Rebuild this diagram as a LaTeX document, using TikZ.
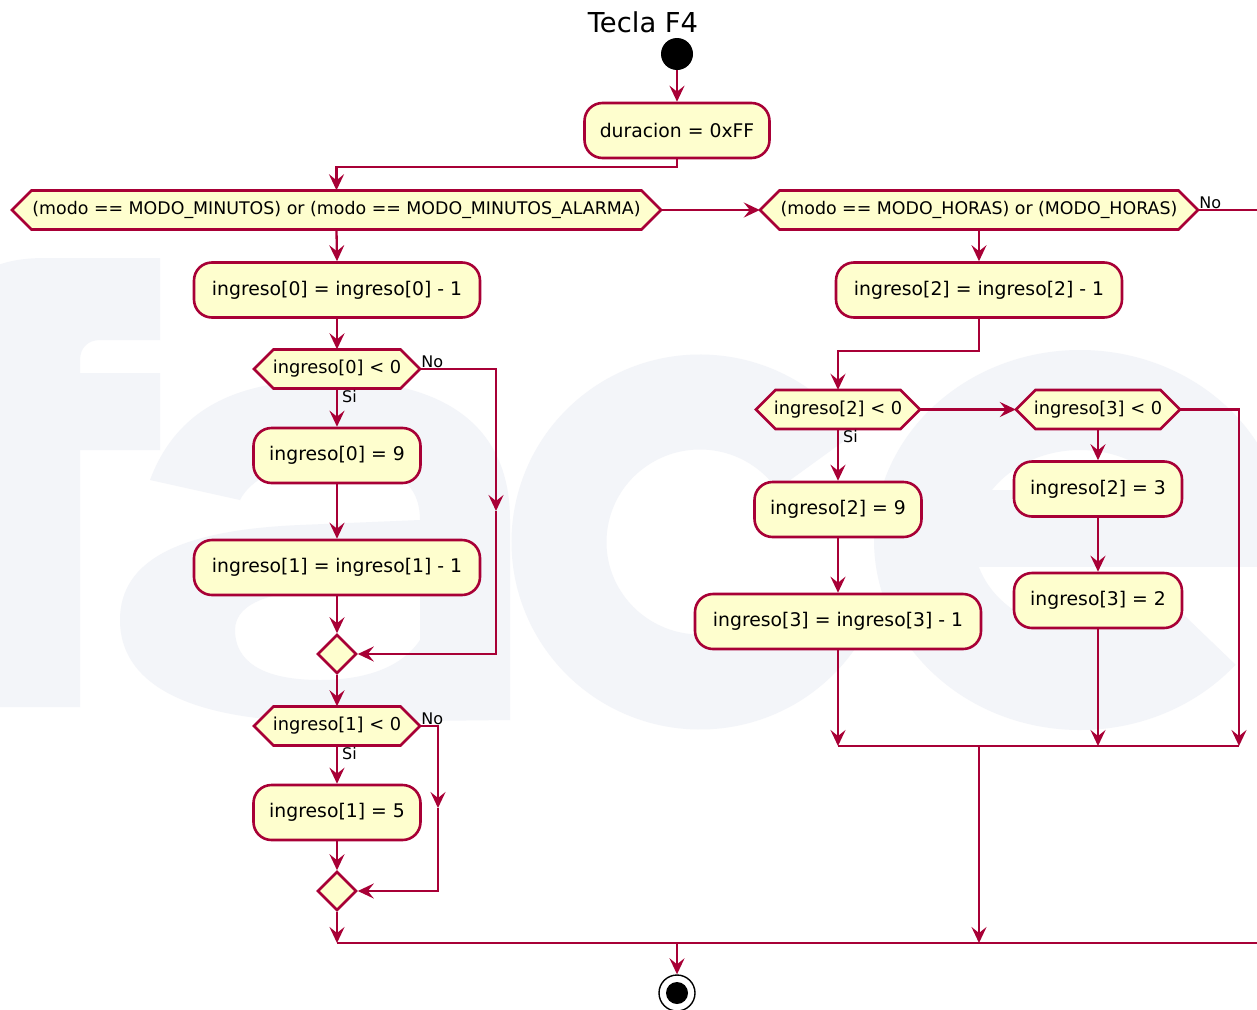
\documentclass[tikz,border=0pt]{standalone}
\usepackage{fontspec}
\setmainfont{DejaVu Sans}
\usetikzlibrary{arrows.meta,shapes.geometric,calc}

\definecolor{umlred}{HTML}{A80036}
\definecolor{umlfill}{HTML}{FEFECE}
\definecolor{wmark}{RGB}{243,245,249}

\tikzset{
  flow/.style={draw=umlred, line width=2.3pt, -{Stealth[length=16pt,width=15pt,inset=6pt]}},
  wire/.style={draw=umlred, line width=2.3pt},
  actbox/.style={draw=umlred, fill=umlfill, line width=2.6pt, rounded corners=18pt,
    minimum height=55pt, inner sep=0pt, font=\fontsize{18.8}{22}\selectfont},
  hexline/.style={draw=umlred, fill=umlfill, line width=2.6pt, line join=miter},
  hextext/.style={inner sep=0pt, minimum height=39pt},
  merge/.style={diamond, draw=umlred, fill=umlfill, line width=2.6pt,
    minimum width=39pt, minimum height=39pt, inner sep=0pt},
  guard/.style={font=\fontsize{16}{18}\selectfont, inner sep=1pt},
}

% hexagonal decision: name, centre x, centre y, total width, font size, text
\newcommand\flowhex[6]{%
  \path[hexline] ({#2-#4/2},#3) -- ({#2-#4/2+19.5},{#3-19.5})
    -- ({#2+#4/2-19.5},{#3-19.5}) -- ({#2+#4/2},#3)
    -- ({#2+#4/2-19.5},{#3+19.5}) -- ({#2-#4/2+19.5},{#3+19.5}) -- cycle;
  \node[hextext, minimum width=#4pt, font=\fontsize{#5}{#5}\selectfont] (#1) at (#2,#3) {#6};
}

\begin{document}
\begin{tikzpicture}[x=1pt,y=-1pt]
\useasboundingbox (0,0) rectangle (1257,1009);
\fill[white] (0,0) rectangle (1257,1009);

% faint lettering behind the chart
\fill[wmark] (-40,707) -- (-40,320) .. controls (-40,275) and (-5,258) .. (45,258)
  -- (160,258) -- (160,340) -- (100,340) .. controls (88,340) and (80,348) .. (80,360)
  -- (80,373) -- (160,373) -- (160,450) -- (80,450) -- (80,707) -- cycle;
\fill[wmark, even odd rule] (150,480) .. controls (180,400) and (250,380) .. (330,380)
  .. controls (450,380) and (510,430) .. (510,520) -- (510,720) -- (330,722)
  .. controls (180,722) and (120,680) .. (120,620) .. controls (120,560) and (180,530) .. (300,525)
  -- (420,520) .. controls (420,480) and (390,462) .. (330,462)
  .. controls (280,462) and (250,480) .. (240,500) -- cycle
  (235,630) .. controls (235,600) and (280,590) .. (330,590) -- (420,590) -- (420,640)
  .. controls (400,670) and (360,680) .. (320,680) .. controls (260,680) and (235,660) .. (235,630) -- cycle;
\draw[wmark, line width=95pt] ($(700,542)+(-35:141 and 140)$)
  arc[start angle=-35, end angle=-325, x radius=141, y radius=140];
\draw[wmark, line width=100pt] ($(1080,540)+(0:156 and 140)$)
  arc[start angle=0, end angle=-320, x radius=156, y radius=140];
\fill[wmark] (960,490) rectangle (1290,567);

% title, start and end
\node[font=\fontsize{27.4}{30}\selectfont, inner sep=0pt, anchor=base] (title) at (643,32) {Tecla F4};
\node[circle, fill=black, minimum size=32pt, inner sep=0pt] (start) at (677,54) {};
\node[circle, draw=black, line width=1.4pt, fill=white, minimum size=36pt, inner sep=0pt] (stop) at (677,993) {};
\node[circle, fill=black, minimum size=22pt, inner sep=0pt] (stopdot) at (677,993) {};

% actions
\node[actbox, minimum width=185pt] (dur) at (677,130.5) {duracion = 0xFF};
\node[actbox, minimum width=286pt] (a0) at (337,290) {ingreso[0] = ingreso[0] - 1};
\node[actbox, minimum width=167pt] (a1) at (337,455.5) {ingreso[0] = 9};
\node[actbox, minimum width=286pt] (a2) at (337,567.5) {ingreso[1] = ingreso[1] - 1};
\node[actbox, minimum width=167pt] (a3) at (337,812.5) {ingreso[1] = 5};
\node[actbox, minimum width=286pt] (a4) at (979,290) {ingreso[2] = ingreso[2] - 1};
\node[actbox, minimum width=167pt] (a5) at (838,509.5) {ingreso[2] = 9};
\node[actbox, minimum width=286pt] (a6) at (838,621.5) {ingreso[3] = ingreso[3] - 1};
\node[actbox, minimum width=168pt] (a7) at (1098,489) {ingreso[2] = 3};
\node[actbox, minimum width=168pt] (a8) at (1098,600.5) {ingreso[3] = 2};

% decisions
\flowhex{d1}{336.5}{210}{649}{17.4}{(modo == MODO\_MINUTOS) or (modo == MODO\_MINUTOS\_ALARMA)}
\flowhex{d2}{979}{210}{438}{17.4}{(modo == MODO\_HORAS) or (MODO\_HORAS)}
\flowhex{h0}{337}{369}{166}{17.8}{ingreso[0] < 0}
\flowhex{h1}{337}{726}{166}{17.8}{ingreso[1] < 0}
\flowhex{h2}{838}{409.5}{164}{17.8}{ingreso[2] < 0}
\flowhex{h3}{1098}{409.5}{164}{17.8}{ingreso[3] < 0}

% merges
\node[merge] (m0) at (337,654) {};
\node[merge] (m1) at (337,891) {};

% free ends of the connectors
\coordinate (rR) at (1257,210);
\coordinate (k0) at (496,511);
\coordinate (k1) at (438,808);
\coordinate (b0) at (337,943);
\coordinate (b1) at (677,943);
\coordinate (b2) at (979,943);
\coordinate (bR) at (1257,943);
\coordinate (j0) at (979,746);
\coordinate (j1) at (838,746);
\coordinate (j2) at (1098,746);
\coordinate (j3) at (1239,746);

% connectors
\draw[flow] (start.south) -- (dur.north);
\draw[flow] (dur.south) -- ++(0,8) -| (d1.north);
\draw[flow] (d1.east) -- (d2.west);
\draw[wire] (d2.east) -- (rR);
\node[guard, anchor=south west] (no2) at (d2.east) {No};

\draw[flow] (d1.south) -- (a0.north);
\draw[flow] (a0.south) -- (h0.north);
\draw[flow] (h0.south) -- (a1.north);
\node[guard, anchor=north west] (si0) at ($(h0.south)+(4,0)$) {Si};
\draw[flow] (h0.east) -| (k0);
\draw[flow] (k0) |- (m0.east);
\node[guard, anchor=south west] (no0) at (h0.east) {No};
\draw[flow] (a1.south) -- (a2.north);
\draw[flow] (a2.south) -- (m0.north);
\draw[flow] (m0.south) -- (h1.north);

\draw[flow] (h1.south) -- (a3.north);
\node[guard, anchor=north west] (si1) at ($(h1.south)+(4,0)$) {Si};
\draw[flow] (h1.east) -| (k1);
\draw[flow] (k1) |- (m1.east);
\node[guard, anchor=south west] (no1) at (h1.east) {No};
\draw[flow] (a3.south) -- (m1.north);
\draw[flow] (m1.south) -- (b0);
\draw[wire] (b0) -- (bR);
\draw[flow] (b1) -- (stop.north);

\draw[flow] (d2.south) -- (a4.north);
\draw[flow] (a4.south) -- ++(0,32) -| (h2.north);
\draw[flow] (h2.east) -- (h3.west);
\draw[flow] (h2.south) -- (a5.north);
\node[guard, anchor=north west] (si2) at ($(h2.south)+(4,0)$) {Si};
\draw[flow] (a5.south) -- (a6.north);
\draw[flow] (a6.south) -- (j1);
\draw[flow] (h3.south) -- (a7.north);
\draw[flow] (a7.south) -- (a8.north);
\draw[flow] (a8.south) -- (j2);
\draw[flow] (h3.east) -| (j3);
\draw[wire] (j1) -- (j3);
\draw[flow] (j0) -- (b2);
\end{tikzpicture}
\end{document}
